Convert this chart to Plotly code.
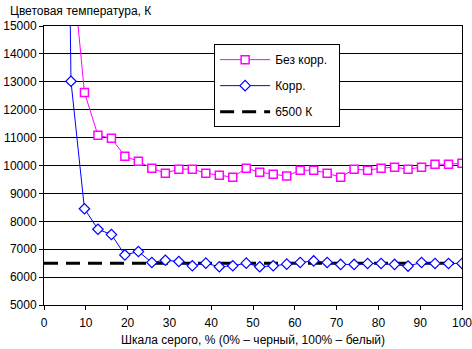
import plotly.graph_objects as go

# Grey level steps (32 steps, 0..31 -> 0..100 %)
steps = list(range(32))
gray_pct = [i * 100 / 31 for i in steps]

# Colour temperature without correction (K)
no_corr = [None, None, 17650, 12620, 11080, 10975, 10330, 10150, 9900, 9725,
           9870, 9870, 9725, 9655, 9580, 9905, 9760, 9690, 9620, 9830,
           9830, 9725, 9580, 9870, 9830, 9905, 9940, 9870, 9940, 10045,
           10045, 10080]

# Colour temperature with correction (K)
corr = [None, 53000, 13020, 8450, 7715, 7525, 6795, 6915, 6525, 6605,
        6560, 6405, 6500, 6370, 6405, 6500, 6370, 6405, 6465, 6525,
        6580, 6525, 6455, 6455, 6490, 6490, 6455, 6395, 6525, 6490,
        6490, 6490]

ref_x = [0, 100]
ref_y = [6500, 6500]

names = ["Без корр.", "Корр.", "6500 К"]
x_ticks = list(range(0, 101, 10))
x_labels = [str(v) for v in x_ticks]
y_ticks = list(range(5000, 15001, 1000))
y_labels = [str(v) for v in y_ticks]

FONT = "Liberation Sans, Arial, sans-serif"
PAD = "\u00a0\u00a0"

fig = go.Figure()

fig.add_trace(go.Scatter(
    x=ref_x, y=ref_y, mode="lines", name=names[2],
    line=dict(color="black", width=3, dash="14px,8px"),
    legendgroup="c", legendrank=3,
))
fig.add_trace(go.Scatter(
    x=gray_pct, y=no_corr, mode="lines+markers", name=names[0] + PAD,
    line=dict(color="#FF00FF", width=1),
    marker=dict(symbol="square", size=8, color="white",
                line=dict(color="#FF00FF", width=1.5)),
    legendgroup="a", legendrank=1,
))
fig.add_trace(go.Scatter(
    x=gray_pct, y=corr, mode="lines+markers", name=names[1],
    line=dict(color="#0000FF", width=1),
    marker=dict(symbol="diamond", size=8, color="white",
                line=dict(color="#0000FF", width=1.2)),
    legendgroup="b", legendrank=2,
))

fig.update_layout(
    width=472, height=349,
    margin=dict(l=44, r=10, t=26, b=44, autoexpand=False),
    paper_bgcolor="white", plot_bgcolor="white",
    font=dict(family=FONT, size=12, color="black"),
    showlegend=True,
    legend=dict(
        x=0.407, y=0.935, xanchor="left", yanchor="top",
        bgcolor="white", bordercolor="black", borderwidth=1,
        font=dict(family=FONT, size=12, color="black"),
        traceorder="grouped", tracegroupgap=7,
        itemwidth=50,
    ),
    xaxis=dict(
        range=[0, 100], tickvals=x_ticks, ticktext=x_labels,
        ticks="outside", ticklen=4, ticklabeloverflow="allow",
        ticklabelstandoff=3, automargin=False,
        tickcolor="black", showline=True, linecolor="black", linewidth=1,
        mirror=True, showgrid=False, zeroline=False,
        title=dict(text="Шкала серого, % (0% – черный, 100% – белый)",
                   standoff=6, font=dict(size=12)),
        tickfont=dict(size=12),
    ),
    yaxis=dict(
        range=[5000, 15000], tickvals=y_ticks, ticktext=y_labels,
        ticks="outside", ticklen=4, automargin=False,
        tickcolor="black", showline=True, linecolor="black", linewidth=1,
        mirror=True, showgrid=True, gridcolor="black", gridwidth=1,
        zeroline=False, tickfont=dict(size=12),
    ),
    annotations=[dict(
        text="Цветовая температура, К", xref="paper", yref="paper",
        x=-44 / 418, y=1 + 26 / 279, xanchor="left", yanchor="top",
        yshift=-2, xshift=8, showarrow=False, font=dict(size=12),
    )],
)

fig.write_html("out.html")
